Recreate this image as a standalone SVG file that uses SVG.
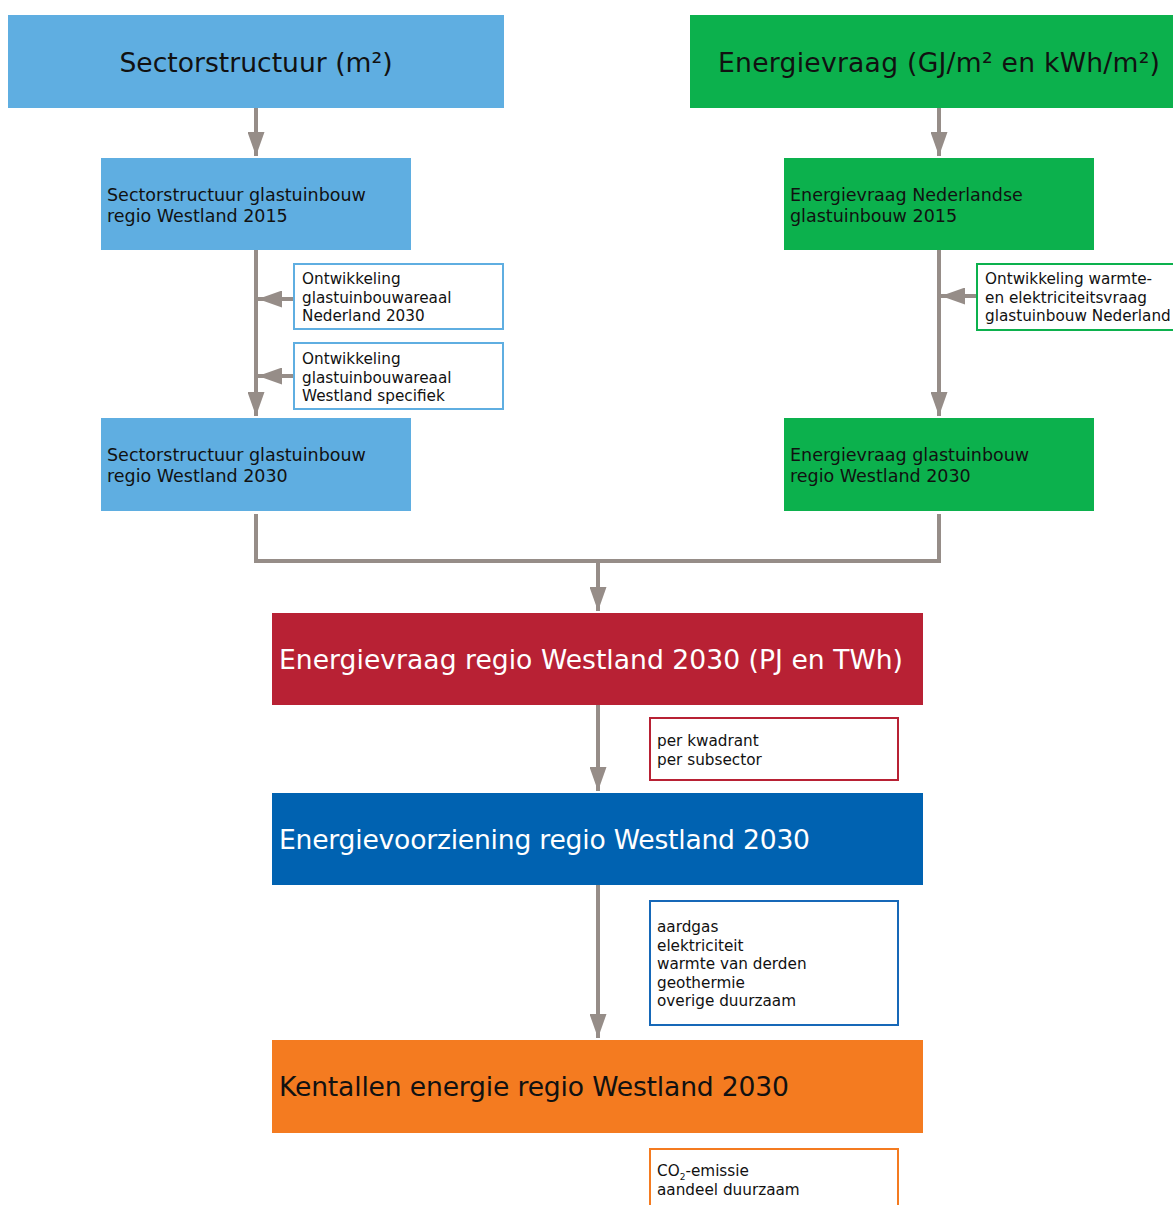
<svg xmlns="http://www.w3.org/2000/svg" width="1173" height="1205" viewBox="0 0 1173 1205">
<defs>
<marker id="ah" viewBox="0 0 24 17" refX="24" refY="8.5" markerWidth="24" markerHeight="17" markerUnits="userSpaceOnUse" orient="auto">
<path d="M0,0 L24,8.5 L0,17 Z" fill="#968d88"/>
</marker>
<style>
text{font-family:"DejaVu Sans",Verdana,sans-serif;}
.big{font-size:26.6px;}
.mid{font-size:17.5px;fill:#111;}
.sm{font-size:15.25px;fill:#111;}
.con{fill:none;stroke:#968d88;stroke-width:4;}
.side{fill:#fff;stroke-width:2;}
</style>
</defs>
<rect width="1173" height="1205" fill="#fff"/>
<g id="connectors">
<path class="con" d="M256,108 V156" marker-end="url(#ah)"/>
<path class="con" d="M939,108 V156" marker-end="url(#ah)"/>
<path class="con" d="M256,250 V416" marker-end="url(#ah)"/>
<path class="con" d="M294,299 H258" marker-end="url(#ah)"/>
<path class="con" d="M294,376 H258" marker-end="url(#ah)"/>
<path class="con" d="M939,250 V416" marker-end="url(#ah)"/>
<path class="con" d="M977,296 H941" marker-end="url(#ah)"/>
<path class="con" d="M256,514 V561 H939 V514"/>
<path class="con" d="M598,561 V611" marker-end="url(#ah)"/>
<path class="con" d="M598,705 V791" marker-end="url(#ah)"/>
<path class="con" d="M598,885 V1038" marker-end="url(#ah)"/>
</g>
<g id="sectorstructuur">
<rect x="8" y="15" width="496" height="93" fill="#5faee1"/>
<text class="big" x="256" y="72" text-anchor="middle" fill="#111">Sectorstructuur (m²)</text>
</g>
<g id="energievraag">
<rect x="690" y="15" width="483" height="93" fill="#0cb14d"/>
<text class="big" x="718" y="72" fill="#111" textLength="442" lengthAdjust="spacing">Energievraag (GJ/m² en kWh/m²)</text>
</g>
<g id="sector2015">
<rect x="101" y="158" width="310" height="92" fill="#5faee1"/>
<text class="mid" x="107" y="200.5">Sectorstructuur glastuinbouw</text>
<text class="mid" x="107" y="221.5">regio Westland 2015</text>
</g>
<g id="energie2015">
<rect x="784" y="158" width="310" height="92" fill="#0cb14d"/>
<text class="mid" x="790" y="200.5">Energievraag Nederlandse</text>
<text class="mid" x="790" y="221.5">glastuinbouw 2015</text>
</g>
<g id="ontw-nl">
<rect class="side" x="294" y="264" width="209" height="65" stroke="#5faee1"/>
<text class="sm" x="302" y="284">Ontwikkeling</text>
<text class="sm" x="302" y="302.5">glastuinbouwareaal</text>
<text class="sm" x="302" y="321">Nederland 2030</text>
</g>
<g id="ontw-wl">
<rect class="side" x="294" y="343" width="209" height="66" stroke="#5faee1"/>
<text class="sm" x="302" y="364">Ontwikkeling</text>
<text class="sm" x="302" y="382.5">glastuinbouwareaal</text>
<text class="sm" x="302" y="401">Westland specifiek</text>
</g>
<g id="ontw-warmte">
<rect class="side" x="977" y="264" width="200" height="66" stroke="#0cb14d"/>
<text class="sm" x="985" y="284">Ontwikkeling warmte-</text>
<text class="sm" x="985" y="302.5">en elektriciteitsvraag</text>
<text class="sm" x="985" y="321">glastuinbouw Nederland</text>
</g>
<g id="sector2030">
<rect x="101" y="418" width="310" height="93" fill="#5faee1"/>
<text class="mid" x="107" y="461">Sectorstructuur glastuinbouw</text>
<text class="mid" x="107" y="482">regio Westland 2030</text>
</g>
<g id="energie2030">
<rect x="784" y="418" width="310" height="93" fill="#0cb14d"/>
<text class="mid" x="790" y="461">Energievraag glastuinbouw</text>
<text class="mid" x="790" y="482">regio Westland 2030</text>
</g>
<g id="energievraag-regio">
<rect x="272" y="613" width="651" height="92" fill="#b82134"/>
<text class="big" x="279" y="669" fill="#fff" textLength="624" lengthAdjust="spacing">Energievraag regio Westland 2030 (PJ en TWh)</text>
</g>
<g id="per">
<rect class="side" x="650" y="718" width="248" height="62" stroke="#b82134"/>
<text class="sm" x="657" y="746">per kwadrant</text>
<text class="sm" x="657" y="764.5">per subsector</text>
</g>
<g id="energievoorziening">
<rect x="272" y="793" width="651" height="92" fill="#0062b1"/>
<text class="big" x="279" y="849" fill="#fff" textLength="531" lengthAdjust="spacing">Energievoorziening regio Westland 2030</text>
</g>
<g id="dragers">
<rect class="side" x="650" y="901" width="248" height="124" stroke="#1668b8"/>
<text class="sm" x="657" y="932">aardgas</text>
<text class="sm" x="657" y="950.5">elektriciteit</text>
<text class="sm" x="657" y="969">warmte van derden</text>
<text class="sm" x="657" y="987.5">geothermie</text>
<text class="sm" x="657" y="1006">overige duurzaam</text>
</g>
<g id="kentallen">
<rect x="272" y="1040" width="651" height="93" fill="#f47b20"/>
<text class="big" x="279" y="1096" fill="#111" textLength="510" lengthAdjust="spacing">Kentallen energie regio Westland 2030</text>
</g>
<g id="emissie">
<rect class="side" x="650" y="1149" width="248" height="70" stroke="#f47b20"/>
<text class="sm" x="657" y="1176">CO<tspan font-size="9" dy="4">2</tspan><tspan dy="-4">-emissie</tspan></text>
<text class="sm" x="657" y="1194.5">aandeel duurzaam</text>
</g>
</svg>
